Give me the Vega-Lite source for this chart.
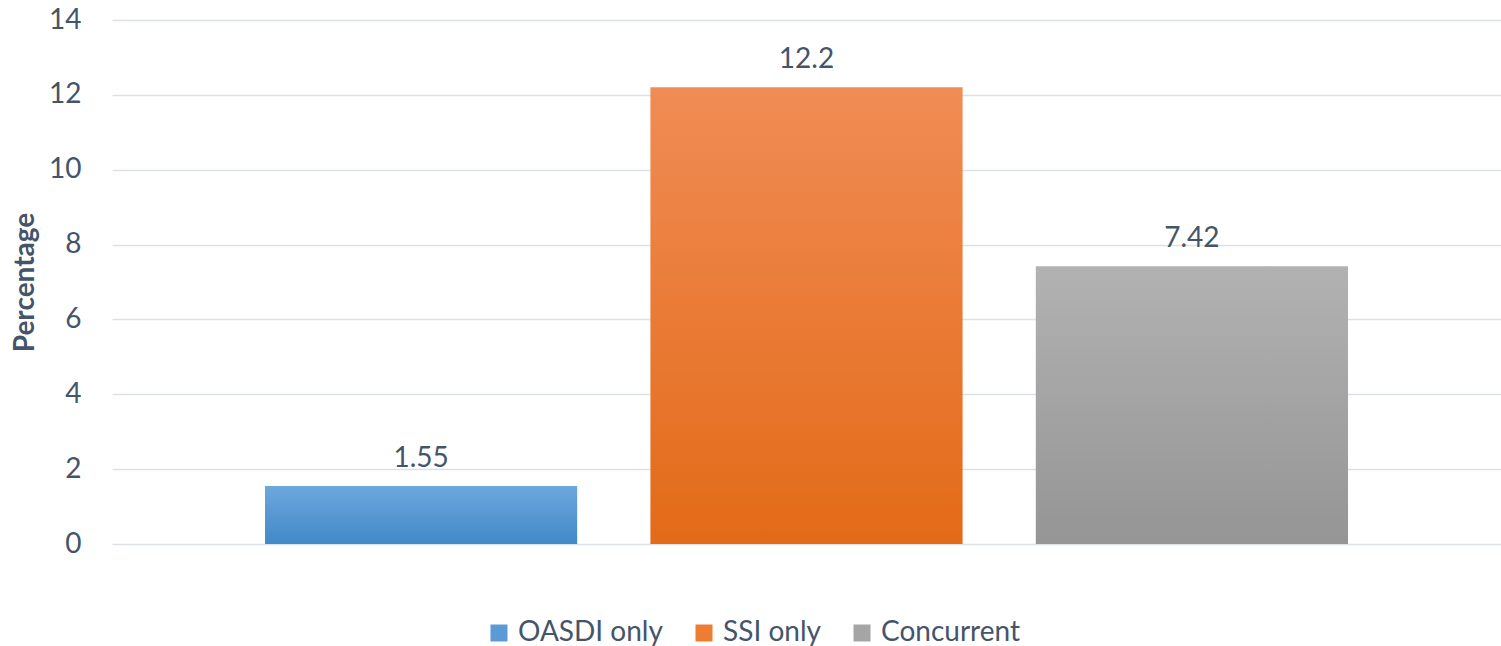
{
  "$schema": "https://vega.github.io/schema/vega-lite/v6.json",
  "width": 1389,
  "height": 524,
  "autosize": {"type": "none"},
  "padding": {"left": 112, "top": 20, "right": 0, "bottom": 102},
  "background": "white",
  "config": {
    "font": "Lato",
    "view": {"stroke": null}
  },
  "data": {
    "values": [
      {"group": "OASDI only", "pct": 1.55, "label": "1.55"},
      {"group": "SSI only", "pct": 12.2, "label": "12.2"},
      {"group": "Concurrent", "pct": 7.42, "label": "7.42"}
    ]
  },
  "encoding": {
    "x": {
      "field": "group",
      "type": "nominal",
      "sort": ["OASDI only", "SSI only", "Concurrent"],
      "axis": null,
      "scale": {"paddingInner": 0.19, "paddingOuter": 0.397}
    },
    "y": {
      "field": "pct",
      "type": "quantitative",
      "scale": {"domain": [0, 14], "nice": false},
      "axis": {
        "values": [0, 2, 4, 6, 8, 10, 12, 14],
        "title": "Percentage",
        "titleFont": "Lato",
        "titleFontSize": 28,
        "titleFontWeight": "bold",
        "titleColor": "#44546A",
        "titlePadding": 9,
        "labelFont": "Lato",
        "labelFontSize": 28,
        "labelColor": "#44546A",
        "labelPadding": 31,
        "domain": false,
        "ticks": false,
        "grid": true,
        "gridColor": "#DCE1E7",
        "gridWidth": 1.5
      }
    }
  },
  "layer": [
    {
      "mark": {"type": "bar"},
      "encoding": {
        "color": {
          "field": "group",
          "type": "nominal",
          "sort": ["OASDI only", "SSI only", "Concurrent"],
          "scale": {
            "domain": ["OASDI only", "SSI only", "Concurrent"],
            "range": ["#5B9BD5", "#ED7D31", "#A5A5A5"]
          },
          "legend": {
            "title": null,
            "orient": "none",
            "direction": "horizontal",
            "legendX": 373,
            "legendY": 599,
            "symbolType": "square",
            "symbolSize": 289,
            "symbolStrokeWidth": 0,
            "labelFont": "Lato",
            "labelFontSize": 28,
            "labelColor": "#44546A",
            "labelOffset": 5,
            "columnPadding": 27,
            "labelLimit": 400
          },
          "condition": [
            {"test": "datum.group === 'OASDI only'", "value": {"gradient": "linear", "x1": 0, "y1": 0, "x2": 0, "y2": 1, "stops": [{"offset": 0, "color": "#6DA8DE"}, {"offset": 1, "color": "#4288C8"}]}},
            {"test": "datum.group === 'SSI only'", "value": {"gradient": "linear", "x1": 0, "y1": 0, "x2": 0, "y2": 1, "stops": [{"offset": 0, "color": "#F08C55"}, {"offset": 1, "color": "#E36A17"}]}},
            {"test": "datum.group === 'Concurrent'", "value": {"gradient": "linear", "x1": 0, "y1": 0, "x2": 0, "y2": 1, "stops": [{"offset": 0, "color": "#B2B2B2"}, {"offset": 1, "color": "#959595"}]}}
          ]
        }
      }
    },
    {
      "mark": {"type": "text", "baseline": "alphabetic", "dy": -19, "font": "Lato", "fontSize": 28, "color": "#44546A"},
      "encoding": {"text": {"field": "label"}}
    }
  ]
}
